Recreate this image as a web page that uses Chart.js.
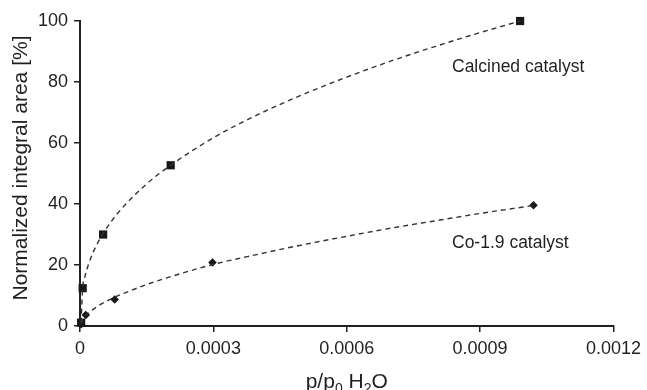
<!DOCTYPE html>
<html>
<head>
<meta charset="utf-8">
<script src="https://cdn.jsdelivr.net/npm/chart.js@4.4.1/dist/chart.umd.min.js"></script>
<style>
  html, body { margin: 0; padding: 0; background: #fff; }
  #wrap { width: 647px; height: 390px; }
</style>
</head>
<body>
<div id="wrap"><canvas id="chart"></canvas></div>
<script>
var calcinedX = [0.0000025, 0.000006, 0.000052, 0.000204, 0.00099];
var calcinedY = [1.1, 12.4, 30.0, 52.7, 100];
var coX = [0.0000025, 0.000013, 0.000078, 0.000298, 0.00102];
var coY = [0.6, 3.6, 8.7, 20.8, 39.6];

// dashed trend lines
var calcinedTrendX = [0.0000025, 0.000006, 0.00001, 0.00002, 0.00004, 0.00007, 0.0001, 0.00015, 0.0002, 0.0003, 0.0004, 0.0005, 0.0006, 0.0007, 0.0008, 0.0009, 0.00099];
var calcinedTrendY = [1.1, 12.6, 15.6, 20.6, 27.3, 34.2, 39.5, 46.6, 52.3, 61.7, 69.3, 75.8, 81.6, 86.9, 91.7, 96.2, 100];
var coTrendX = [0.0000025, 0.00001, 0.00002, 0.00004, 0.00007, 0.0001, 0.00015, 0.0002, 0.0003, 0.0004, 0.0005, 0.0006, 0.0007, 0.0008, 0.0009, 0.00102];
var coTrendY = [0.6, 3.0, 4.4, 6.5, 8.9, 10.8, 13.6, 16.0, 20.2, 23.5, 26.6, 29.4, 32.1, 34.5, 36.9, 39.5];

var xTicks = [0, 0.0003, 0.0006, 0.0009, 0.0012];
var yTicks = [0, 20, 40, 60, 80, 100];
var labels = ["Calcined catalyst", "Co-1.9 catalyst"];

var ink = "#231f20";
var font = "'Liberation Sans', Arial, sans-serif";

function pts(xs, ys) {
    return xs.map(function (x, i) { return { x: x, y: ys[i] }; });
}

// titles and series labels drawn by hand (subscripts)
var textPlugin = {
    id: "texts",
    afterDraw: function (chart) {
        var ctx = chart.ctx;
        var area = chart.chartArea;
        ctx.save();
        ctx.fillStyle = ink;

        // series labels
        ctx.font = "17.5px " + font;
        ctx.textAlign = "left";
        ctx.textBaseline = "middle";
        ctx.fillText(labels[0], 452, 67);
        ctx.fillText(labels[1], 452, 243);

        // y title
        ctx.save();
        ctx.translate(21, 168);
        ctx.rotate(-Math.PI / 2);
        ctx.font = "21px " + font;
        ctx.textAlign = "center";
        ctx.textBaseline = "middle";
        ctx.fillText("Normalized integral area [%]", 0, 0);
        ctx.restore();

        // x title with subscripts
        var parts = [["p/p", false], ["0", true], [" H", false], ["2", true], ["O", false]];
        var big = "21px " + font, small = "14px " + font;
        var total = 0;
        parts.forEach(function (p) {
            ctx.font = p[1] ? small : big;
            total += ctx.measureText(p[0]).width;
        });
        var x = (area.left + area.right) / 2 - total / 2;
        var base = 388;
        ctx.textAlign = "left";
        ctx.textBaseline = "alphabetic";
        parts.forEach(function (p) {
            ctx.font = p[1] ? small : big;
            ctx.fillText(p[0], x, p[1] ? base + 5 : base);
            x += ctx.measureText(p[0]).width;
        });
        ctx.restore();
    }
};

var lineStyle = {
    showLine: true,
    borderColor: "#333",
    borderWidth: 1.4,
    borderDash: [5, 4],
    cubicInterpolationMode: "monotone",
    pointRadius: 0,
    fill: false,
    clip: false
};

new Chart(document.getElementById("chart"), {
    type: "scatter",
    data: {
        datasets: [
            Object.assign({ data: pts(calcinedTrendX, calcinedTrendY) }, lineStyle),
            Object.assign({ data: pts(coTrendX, coTrendY) }, lineStyle),
            {
                data: pts(calcinedX, calcinedY),
                pointStyle: "rect",
                pointRadius: 5.8,
                backgroundColor: "#1a1718",
                borderColor: "#1a1718",
                borderWidth: 0,
                clip: false
            },
            {
                data: pts(coX, coY),
                pointStyle: "rectRot",
                pointRadius: 4.3,
                backgroundColor: "#1a1718",
                borderColor: "#1a1718",
                borderWidth: 0,
                clip: false
            }
        ]
    },
    options: {
        responsive: true,
        maintainAspectRatio: false,
        animation: false,
        events: [],
        layout: { padding: { top: 21, right: 32, left: 0, bottom: 0 } },
        plugins: {
            legend: { display: false },
            tooltip: { enabled: false }
        },
        scales: {
            x: {
                type: "linear",
                min: 0,
                max: 0.0012,
                afterBuildTicks: function (scale) {
                    scale.ticks = xTicks.map(function (v) { return { value: v }; });
                },
                afterFit: function (scale) { scale.height = 64; },
                ticks: {
                    color: ink,
                    font: { family: font, size: 18 },
                    padding: 6,
                    maxRotation: 0,
                    callback: function (v) { return v === 0 ? "0" : v.toFixed(4); }
                },
                grid: {
                    drawOnChartArea: false,
                    tickLength: 6,
                    color: ink,
                    lineWidth: 1.5
                },
                border: { display: true, color: ink, width: 2 }
            },
            y: {
                type: "linear",
                min: 0,
                max: 100,
                afterBuildTicks: function (scale) {
                    scale.ticks = yTicks.map(function (v) { return { value: v }; });
                },
                afterFit: function (scale) { scale.width = 80; },
                ticks: {
                    color: ink,
                    font: { family: font, size: 18 },
                    padding: 6
                },
                grid: {
                    drawOnChartArea: false,
                    tickLength: 6,
                    color: ink,
                    lineWidth: 1.5
                },
                border: { display: true, color: ink, width: 2 }
            }
        }
    },
    plugins: [textPlugin]
});
</script>
</body>
</html>
